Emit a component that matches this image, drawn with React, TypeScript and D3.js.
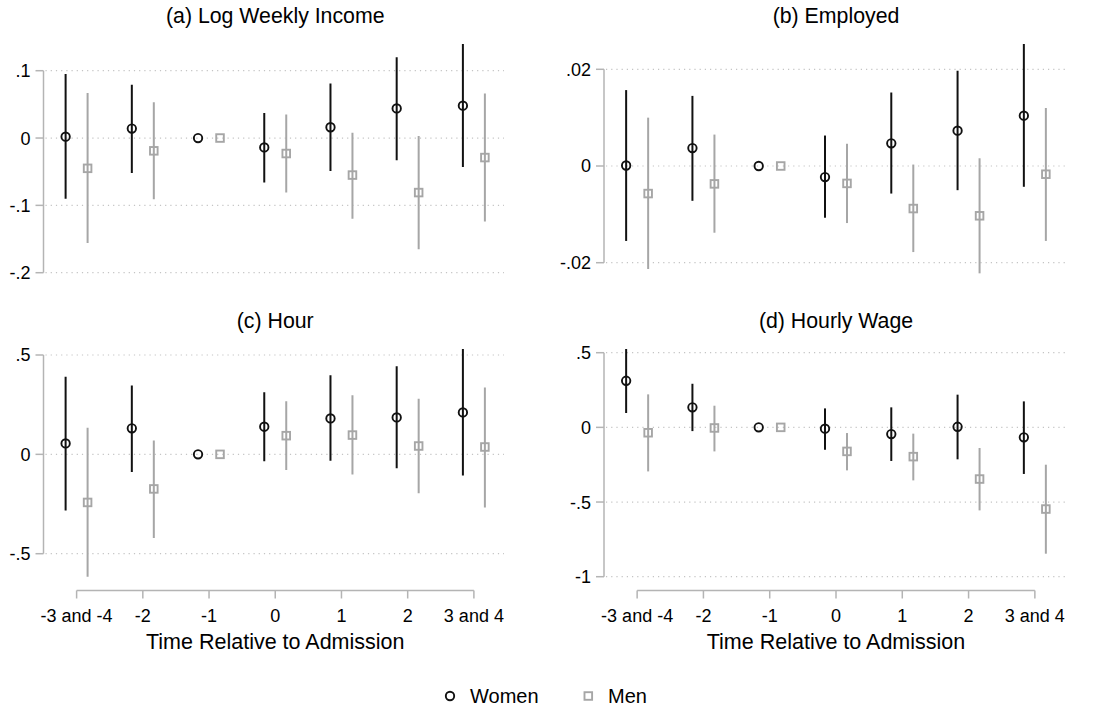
import * as d3 from 'd3';

const CATEGORIES = ['-3 and -4', '-2', '-1', '0', '1', '2', '3 and 4'];

// (a) Log Weekly Income
const incomeWomen = [0.002, 0.014, 0, -0.014, 0.016, 0.044, 0.048];
const incomeWomenLo = [-0.090, -0.052, 0, -0.066, -0.049, -0.033, -0.043];
const incomeWomenHi = [0.095, 0.079, 0, 0.037, 0.081, 0.120, 0.150];
const incomeMen = [-0.045, -0.019, 0, -0.023, -0.055, -0.081, -0.029];
const incomeMenLo = [-0.156, -0.091, 0, -0.081, -0.120, -0.165, -0.124];
const incomeMenHi = [0.067, 0.053, 0, 0.035, 0.008, 0.003, 0.066];
const incomeTicks = [-0.2, -0.1, 0, 0.1];
const incomeTickLabels = ['-.2', '-.1', '0', '.1'];

// (b) Employed
const employedWomen = [0.0001, 0.0037, 0, -0.0023, 0.0047, 0.0073, 0.0104];
const employedWomenLo = [-0.0155, -0.0072, 0, -0.0107, -0.0057, -0.0050, -0.0043];
const employedWomenHi = [0.0157, 0.0145, 0, 0.0063, 0.0152, 0.0197, 0.0270];
const employedMen = [-0.0057, -0.0037, 0, -0.0036, -0.0088, -0.0103, -0.0017];
const employedMenLo = [-0.0213, -0.0138, 0, -0.0118, -0.0178, -0.0222, -0.0155];
const employedMenHi = [0.0100, 0.0065, 0, 0.0046, 0.0003, 0.0016, 0.0120];
const employedTicks = [-0.02, 0, 0.02];
const employedTickLabels = ['-.02', '0', '.02'];

// (c) Hour
const hourWomen = [0.055, 0.131, 0, 0.139, 0.181, 0.186, 0.211];
const hourWomenLo = [-0.282, -0.089, 0, -0.035, -0.032, -0.070, -0.107];
const hourWomenHi = [0.391, 0.346, 0, 0.312, 0.398, 0.443, 0.560];
const hourMen = [-0.242, -0.174, 0, 0.094, 0.097, 0.042, 0.037];
const hourMenLo = [-0.616, -0.421, 0, -0.079, -0.102, -0.196, -0.268];
const hourMenHi = [0.134, 0.070, 0, 0.267, 0.297, 0.280, 0.337];
const hourTicks = [-0.5, 0, 0.5];
const hourTickLabels = ['-.5', '0', '.5'];

// (d) Hourly Wage
const wageWomen = [0.312, 0.134, 0, -0.009, -0.045, 0.004, -0.067];
const wageWomenLo = [0.096, -0.025, 0, -0.150, -0.225, -0.214, -0.312];
const wageWomenHi = [0.560, 0.292, 0, 0.127, 0.134, 0.219, 0.174];
const wageMen = [-0.036, -0.004, 0, -0.161, -0.196, -0.346, -0.547];
const wageMenLo = [-0.295, -0.161, 0, -0.288, -0.355, -0.556, -0.846];
const wageMenHi = [0.221, 0.145, 0, -0.038, -0.042, -0.138, -0.250];
const wageTicks = [-1, -0.5, 0, 0.5];
const wageTickLabels = ['-1', '-.5', '0', '.5'];

const REF_INDEX = 2; // reference period, no interval

const FONT = '"Liberation Sans", Arial, Helvetica, sans-serif';
const TEXT_COLOR = '#000';
const MEN_COLOR = '#a6a6a6';
const AXIS_COLOR = '#b4b4b4';
const GRID_COLOR = '#c4c4c4';
const OFFSET = 0.166;

interface PanelProps {
  id: string;
  title: string;
  left: number;
  right: number;
  clipTop: number;
  clipBottom: number;
  titleY: number;
  yDomain: [number, number];
  yRange: [number, number];
  ticks: number[];
  tickLabels: string[];
  women: number[];
  womenLo: number[];
  womenHi: number[];
  men: number[];
  menLo: number[];
  menHi: number[];
  xAxisY?: number;
}

function Panel(p: PanelProps) {
  const x = d3.scaleLinear().domain([-0.5, CATEGORIES.length - 0.5]).range([p.left, p.right]);
  const y = d3.scaleLinear().domain(p.yDomain).range(p.yRange);
  const axisX = p.left;
  const clipId = `clip-${p.id}`;

  return (
    <g>
      <defs>
        <clipPath id={clipId}>
          <rect x={p.left} y={p.clipTop} width={p.right - p.left} height={p.clipBottom - p.clipTop} />
        </clipPath>
      </defs>
      <text
        x={(p.left + p.right) / 2}
        y={p.titleY}
        textAnchor="middle"
        fontSize={21.3}
        fill={TEXT_COLOR}
      >
        {p.title}
      </text>

      {/* grid */}
      {p.ticks.map((t) => (
        <line
          key={`g${t}`}
          x1={axisX + 2}
          x2={p.right - 3}
          y1={y(t)}
          y2={y(t)}
          stroke={GRID_COLOR}
          strokeWidth={1.2}
          strokeDasharray="1.2,4"
        />
      ))}

      {/* y axis */}
      <line
        x1={axisX}
        x2={axisX}
        y1={y(p.ticks[0])}
        y2={y(p.ticks[p.ticks.length - 1])}
        stroke={AXIS_COLOR}
        strokeWidth={1.5}
      />
      {p.ticks.map((t, i) => (
        <g key={`t${t}`}>
          <line x1={axisX - 8} x2={axisX} y1={y(t)} y2={y(t)} stroke={AXIS_COLOR} strokeWidth={1.5} />
          <text
            x={axisX - 13}
            y={y(t)}
            dy="0.36em"
            textAnchor="end"
            fontSize={18}
            fill={TEXT_COLOR}
          >
            {p.tickLabels[i]}
          </text>
        </g>
      ))}

      {/* x axis (bottom row only) */}
      {p.xAxisY !== undefined && (
        <g>
          <line
            x1={x(0)}
            x2={x(CATEGORIES.length - 1)}
            y1={p.xAxisY}
            y2={p.xAxisY}
            stroke={AXIS_COLOR}
            strokeWidth={1.5}
          />
          {CATEGORIES.map((c, i) => (
            <g key={c}>
              <line
                x1={x(i)}
                x2={x(i)}
                y1={p.xAxisY}
                y2={p.xAxisY! + 8}
                stroke={AXIS_COLOR}
                strokeWidth={1.5}
              />
              <text x={x(i)} y={p.xAxisY! + 31} textAnchor="middle" fontSize={18} fill={TEXT_COLOR}>
                {c}
              </text>
            </g>
          ))}
          <text
            x={(p.left + p.right) / 2}
            y={p.xAxisY + 58}
            textAnchor="middle"
            fontSize={21.5}
            fill={TEXT_COLOR}
          >
            Time Relative to Admission
          </text>
        </g>
      )}

      <g clipPath={`url(#${clipId})`}>
        {/* women */}
        {p.women.map((v, i) =>
          i === REF_INDEX ? null : (
            <line
              key={`wb${i}`}
              x1={x(i - OFFSET)}
              x2={x(i - OFFSET)}
              y1={y(p.womenLo[i])}
              y2={y(p.womenHi[i])}
              stroke="#111"
              strokeWidth={2}
            />
          ),
        )}
        {p.women.map((v, i) => (
          <circle
            key={`wp${i}`}
            cx={x(i - OFFSET)}
            cy={y(v)}
            r={4.2}
            fill="none"
            stroke="#111"
            strokeWidth={1.9}
          />
        ))}
        {/* men */}
        {p.men.map((v, i) =>
          i === REF_INDEX ? null : (
            <line
              key={`mb${i}`}
              x1={x(i + OFFSET)}
              x2={x(i + OFFSET)}
              y1={y(p.menLo[i])}
              y2={y(p.menHi[i])}
              stroke={MEN_COLOR}
              strokeWidth={2}
            />
          ),
        )}
        {p.men.map((v, i) => (
          <rect
            key={`mp${i}`}
            x={x(i + OFFSET) - 3.8}
            y={y(v) - 3.8}
            width={7.6}
            height={7.6}
            fill="none"
            stroke={MEN_COLOR}
            strokeWidth={1.9}
          />
        ))}
      </g>
    </g>
  );
}

export default function App() {
  const W = 1095;
  const H = 711;
  const leftCol = { left: 43.5, right: 507 };
  const rightCol = { left: 604, right: 1068 };

  return (
    <svg
      width={W}
      height={H}
      style={{ position: 'absolute', left: 0, top: 0, background: '#fff' }}
      fontFamily={FONT}
    >
      <rect width={W} height={H} fill="#fff" />
      <Panel
        id="a"
        title="(a) Log Weekly Income"
        {...leftCol}
        clipTop={44}
        clipBottom={295}
        titleY={23}
        yDomain={[-0.2, 0.1]}
        yRange={[272.7, 70.7]}
        ticks={incomeTicks}
        tickLabels={incomeTickLabels}
        women={incomeWomen}
        womenLo={incomeWomenLo}
        womenHi={incomeWomenHi}
        men={incomeMen}
        menLo={incomeMenLo}
        menHi={incomeMenHi}
      />
      <Panel
        id="b"
        title="(b) Employed"
        {...rightCol}
        clipTop={44}
        clipBottom={295}
        titleY={23}
        yDomain={[-0.02, 0.02]}
        yRange={[262.7, 69.3]}
        ticks={employedTicks}
        tickLabels={employedTickLabels}
        women={employedWomen}
        womenLo={employedWomenLo}
        womenHi={employedWomenHi}
        men={employedMen}
        menLo={employedMenLo}
        menHi={employedMenHi}
      />
      <Panel
        id="c"
        title="(c) Hour"
        {...leftCol}
        clipTop={349}
        clipBottom={585}
        titleY={328}
        yDomain={[-0.5, 0.5]}
        yRange={[553.7, 355]}
        ticks={hourTicks}
        tickLabels={hourTickLabels}
        women={hourWomen}
        womenLo={hourWomenLo}
        womenHi={hourWomenHi}
        men={hourMen}
        menLo={hourMenLo}
        menHi={hourMenHi}
        xAxisY={590.5}
      />
      <Panel
        id="d"
        title="(d) Hourly Wage"
        {...rightCol}
        clipTop={349}
        clipBottom={585}
        titleY={328}
        yDomain={[-1, 0.5]}
        yRange={[576.7, 352.7]}
        ticks={wageTicks}
        tickLabels={wageTickLabels}
        women={wageWomen}
        womenLo={wageWomenLo}
        womenHi={wageWomenHi}
        men={wageMen}
        menLo={wageMenLo}
        menHi={wageMenHi}
        xAxisY={590.5}
      />

      {/* legend */}
      <g>
        <circle cx={450} cy={696} r={4.2} fill="none" stroke="#111" strokeWidth={1.9} />
        <text x={470} y={703} fontSize={20} fill={TEXT_COLOR}>
          Women
        </text>
        <rect x={584.5} y={692.2} width={7.6} height={7.6} fill="none" stroke={MEN_COLOR} strokeWidth={1.9} />
        <text x={608} y={703} fontSize={20} fill={TEXT_COLOR}>
          Men
        </text>
      </g>
    </svg>
  );
}
